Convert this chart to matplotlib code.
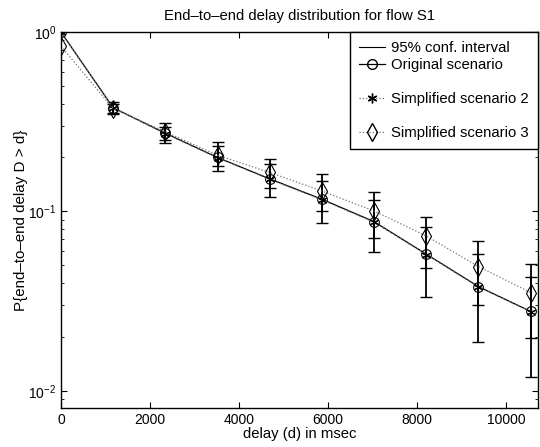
import matplotlib
matplotlib.use('Agg')
import matplotlib.pyplot as plt
from matplotlib.lines import Line2D

plt.rcParams['font.family'] = ['Liberation Sans', 'DejaVu Sans']

# delay bins (msec)
delay = [0, 1172, 2344, 3516, 4688, 5860, 7032, 8204, 9376, 10548]

# P{D > d} per scenario
p_orig = [1.0, 0.379, 0.273, 0.200, 0.152, 0.117, 0.0877, 0.0578, 0.0381, 0.0277]
p_simp2 = [1.0, 0.377, 0.271, 0.199, 0.151, 0.116, 0.0870, 0.0575, 0.0379, 0.0276]
p_simp3 = [0.835, 0.375, 0.278, 0.206, 0.165, 0.130, 0.1006, 0.073, 0.0493, 0.0353]

# 95% confidence intervals (two sets)
ci_a_hi = [1.0, 0.406, 0.310, 0.245, 0.196, 0.161, 0.128, 0.0936, 0.0685, 0.0508]
ci_a_lo = [1.0, 0.349, 0.240, 0.168, 0.121, 0.0866, 0.0594, 0.0335, 0.0188, 0.0120]
ci_b_hi = [1.0, 0.398, 0.297, 0.232, 0.184, 0.148, 0.116, 0.0816, 0.0578, 0.0433]
ci_b_lo = [1.0, 0.356, 0.250, 0.179, 0.135, 0.100, 0.0715, 0.0486, 0.0301, 0.0197]

fig = plt.figure(figsize=(5.4, 4.47), dpi=100)
ax = fig.add_axes([0.113, 0.087, 0.883, 0.841])

for hi, lo, ref in [(ci_a_hi, ci_a_lo, p_simp2), (ci_b_hi, ci_b_lo, p_orig)]:
    yerr = [[r - l for r, l in zip(ref, lo)], [h - r for h, r in zip(hi, ref)]]
    ax.errorbar(delay[1:], ref[1:], yerr=[yerr[0][1:], yerr[1][1:]], fmt='none',
                ecolor='black', elinewidth=1.3, capsize=4, capthick=1.0)

ax.plot(delay, p_orig, '-', color='black', lw=0.9, marker='o', ms=7,
        mfc='none', mec='black', mew=0.8)
ax.plot(delay, p_simp2, ':', color='0.45', lw=0.9, marker=(6, 2, 0), ms=7,
        mec='black', mew=0.8)
ax.plot(delay, p_simp3, ':', color='0.45', lw=0.9, marker='d', ms=9,
        mfc='none', mec='black', mew=0.8)

ax.set_yscale('log')
ax.set_xlim(0, 10710)
ax.set_ylim(0.008, 1)
ax.set_xticks([0, 2000, 4000, 6000, 8000, 10000])
ax.tick_params(which='both', direction='in', top=True, right=True, labelsize=10)
ax.tick_params(which='major', length=4)
ax.tick_params(which='minor', length=2)
for s in ax.spines.values():
    s.set_linewidth(1.0)

ax.set_title('End–to–end delay distribution for flow S1', fontsize=10.7, pad=9)
ax.set_xlabel('delay (d) in msec', fontsize=10.7, labelpad=0)
ax.set_ylabel('P{end–to–end delay D > d}', fontsize=10.9, labelpad=0)

# blank rows reproduce the uneven spacing of the original legend
blank = Line2D([], [], color='none')
handles = [
    Line2D([], [], color='black', lw=0.8),
    Line2D([], [], color='black', lw=0.9, marker='o', ms=7, mfc='none'),
    blank,
    Line2D([], [], color='0.45', ls=':', lw=0.9, marker=(6, 2, 0), ms=7, mec='black'),
    blank,
    Line2D([], [], color='0.45', ls=':', lw=0.9, marker='d', ms=9, mfc='none', mec='black'),
]
labels = ['95% conf. interval', 'Original scenario', ' ', 'Simplified scenario 2', ' ',
          'Simplified scenario 3']
leg = ax.legend(handles, labels, loc='upper right', borderaxespad=0, fancybox=False,
                edgecolor='black', framealpha=1, fontsize=10.7, labelspacing=0.2,
                handlelength=1.7, handletextpad=0.45, borderpad=0.6, handleheight=0.7)
leg.get_frame().set_linewidth(1.0)

fig.savefig('out.png', dpi=100)
